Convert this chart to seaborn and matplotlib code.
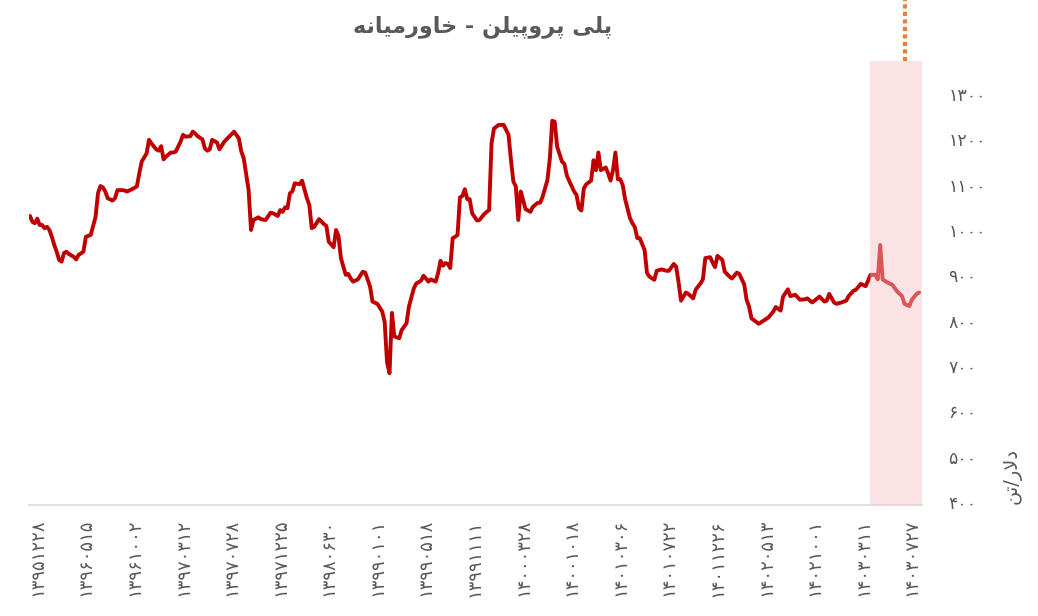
import matplotlib
matplotlib.use("Agg")
import matplotlib.pyplot as plt
import pandas as pd
import seaborn as sns

# ---------------- data ----------------
obs = [0, 1, 2, 3, 4, 5, 6, 7, 8, 9, 10, 11, 12, 13, 14, 15, 16, 18, 19, 20,
       22, 23, 24, 25, 27, 28, 29, 30, 31, 32, 34, 35, 36, 38, 39, 40, 42, 44, 45, 46,
       48, 49, 50, 52, 53, 54, 55, 56, 58, 59, 60, 62, 63, 64, 66, 67, 68, 69, 71, 72,
       73, 74, 75, 77, 78, 80, 82, 84, 86, 87, 88, 90, 91, 92, 94, 95, 97, 99, 100, 102,
       103, 104, 105, 106, 107, 108, 109, 111, 112, 114, 115, 116, 117, 119, 121, 122, 123, 125, 126, 127,
       128, 129, 130, 131, 132, 133, 135, 137, 138, 140, 141, 143, 145, 146, 147, 148, 149, 150, 152, 153,
       155, 156, 158, 159, 161, 162, 163, 164, 165, 167, 168, 169, 170, 171, 172, 173, 174, 175, 176, 177,
       178, 179, 180, 181, 182, 184, 185, 187, 188, 189, 190, 191, 193, 195, 197, 198, 199, 200, 201, 202,
       203, 204, 206, 207, 209, 210, 211, 213, 214, 215, 216, 217, 219, 220, 221, 222, 224, 225, 226, 227,
       228, 229, 231, 232, 233, 234, 235, 237, 238, 239, 240, 241, 242, 243, 244, 245, 247, 248, 249, 250,
       251, 253, 254, 255, 257, 258, 260, 262, 263, 265, 266, 267, 268, 270, 271, 273, 274, 276, 277, 278,
       280, 281, 282, 283, 285, 286, 288, 289, 291, 292, 294, 295, 296, 297, 300, 302, 304, 306, 307, 309,
       310, 312, 313, 315, 317, 319, 320, 322, 325, 327, 328, 329, 331, 332, 334, 336, 337, 339, 340, 342,
       344, 345, 346, 348, 349, 350, 351, 353, 355, 357, 359, 360, 362, 363, 365, 366]

price = [1031, 1018, 1015, 1025, 1011, 1011, 1004, 1007, 1000, 985, 967, 952, 934, 930, 949, 952, 947, 941, 935, 945,
         952, 985, 987, 989, 1029, 1081, 1097, 1094, 1085, 1070, 1065, 1070, 1088, 1088, 1087, 1085, 1090, 1096, 1125, 1151,
         1169, 1199, 1191, 1178, 1175, 1185, 1156, 1162, 1171, 1171, 1173, 1195, 1210, 1206, 1207, 1217, 1213, 1207, 1200, 1180,
         1175, 1178, 1199, 1193, 1178, 1195, 1206, 1217, 1202, 1173, 1158, 1088, 1000, 1022, 1028, 1024, 1022, 1038, 1037, 1031,
         1044, 1040, 1050, 1048, 1081, 1085, 1103, 1101, 1109, 1070, 1055, 1004, 1007, 1024, 1013, 1009, 974, 962, 1000, 987,
         938, 919, 901, 903, 893, 886, 891, 908, 906, 875, 842, 837, 820, 797, 708, 684, 817, 765, 761, 779,
         794, 831, 871, 882, 888, 899, 893, 886, 891, 886, 905, 932, 921, 927, 925, 916, 982, 985, 989, 1072,
         1075, 1090, 1068, 1068, 1037, 1021, 1022, 1035, 1040, 1044, 1191, 1224, 1232, 1232, 1210, 1154, 1107, 1096, 1022, 1085,
         1066, 1046, 1040, 1051, 1060, 1060, 1073, 1110, 1158, 1241, 1239, 1184, 1151, 1146, 1120, 1108, 1085, 1077, 1048, 1043,
         1092, 1101, 1109, 1154, 1132, 1171, 1132, 1138, 1125, 1109, 1132, 1171, 1112, 1112, 1099, 1068, 1026, 1015, 1006, 982,
         982, 956, 905, 897, 890, 910, 913, 910, 910, 925, 919, 884, 844, 862, 859, 849, 868, 882, 891, 938,
         940, 928, 918, 943, 934, 908, 897, 893, 906, 903, 880, 846, 831, 805, 793, 800, 807, 820, 830, 822,
         853, 869, 854, 857, 846, 847, 849, 840, 853, 842, 844, 859, 840, 837, 840, 844, 854, 866, 868, 881,
         876, 888, 901, 901, 891, 967, 891, 884, 879, 864, 854, 837, 832, 846, 859, 862]

tick_obs = [3, 23, 43, 63, 83, 103, 123, 143, 163, 183, 203, 223, 243, 263, 283, 303, 323, 343, 363]
tick_labels = ["۱۳۹۵۱۲۲۸", "۱۳۹۶۰۵۱۵", "۱۳۹۶۱۰۰۲", "۱۳۹۷۰۳۱۲", "۱۳۹۷۰۷۲۸",
               "۱۳۹۷۱۲۲۵", "۱۳۹۸۰۶۳۰", "۱۳۹۹۰۱۰۱", "۱۳۹۹۰۵۱۸", "۱۳۹۹۱۱۱۱",
               "۱۴۰۰۰۳۲۸", "۱۴۰۰۱۰۱۸", "۱۴۰۱۰۳۰۶", "۱۴۰۱۰۷۲۲", "۱۴۰۱۱۲۲۶",
               "۱۴۰۲۰۵۱۳", "۱۴۰۲۱۰۰۱", "۱۴۰۳۰۳۱۱", "۱۴۰۳۰۷۲۷"]
y_ticks = [400, 500, 600, 700, 800, 900, 1000, 1100, 1200, 1300]
highlight_from, highlight_to = 345.6, 367.2
marker_obs = 360.0

title_text = "پلی پروپیلن - خاورمیانه"
unit_text = "دلار/تن"

# -------------- Persian shaping (matplotlib does no shaping / bidi) --------------
FORMS = {
    'ا': ('\uFE8D', '\uFE8E', None, None),
    'د': ('\uFEA9', '\uFEAA', None, None),
    'ر': ('\uFEAD', '\uFEAE', None, None),
    'و': ('\uFEED', '\uFEEE', None, None),
    'پ': ('\uFB56', '\uFB57', '\uFB58', '\uFB59'),
    'ل': ('\uFEDD', '\uFEDE', '\uFEDF', '\uFEE0'),
    'ی': ('\uFBFC', '\uFBFD', '\uFBFE', '\uFBFF'),
    'ن': ('\uFEE5', '\uFEE6', '\uFEE7', '\uFEE8'),
    'خ': ('\uFEA5', '\uFEA6', '\uFEA7', '\uFEA8'),
    'م': ('\uFEE1', '\uFEE2', '\uFEE3', '\uFEE4'),
    'ه': ('\uFEE9', '\uFEEA', '\uFEEB', '\uFEEC'),
    'ت': ('\uFE95', '\uFE96', '\uFE97', '\uFE98'),
}


def shape(s):
    out = []
    i, n = 0, len(s)
    while i < n:
        c = s[i]
        if c not in FORMS:
            out.append(c)
            i += 1
            continue
        prev = s[i - 1] if i > 0 else ''
        joins_prev = prev in FORMS and FORMS[prev][2] is not None
        if c == 'ل' and i + 1 < n and s[i + 1] == 'ا':
            out.append('\uFEFC' if joins_prev else '\uFEFB')
            i += 2
            continue
        nxt = s[i + 1] if i + 1 < n else ''
        joins_next = FORMS[c][2] is not None and nxt in FORMS
        iso, fin, ini, med = FORMS[c]
        if joins_prev and joins_next:
            f = med
        elif joins_prev:
            f = fin
        elif joins_next:
            f = ini
        else:
            f = iso
        out.append(f)
        i += 1
    return ''.join(reversed(out))


FA_DIGITS = str.maketrans('0123456789', '۰۱۲۳۴۵۶۷۸۹')

# ---------------- plot ----------------
sns.set_theme(style="white")
plt.rcParams['font.family'] = ['DejaVu Sans']

df = pd.DataFrame({"obs": obs, "price": price})

fig = plt.figure(figsize=(10.38, 6.16), dpi=100)
ax = fig.add_axes([29 / 1038, 1 - 505 / 616, (922 - 29) / 1038, (505 - 61) / 616])

sns.lineplot(data=df, x="obs", y="price", ax=ax, color="#C00000", linewidth=2.8,
             estimator=None, sort=True, zorder=3)

ax.axvspan(highlight_from, highlight_to, color="#F8C3C7", alpha=0.45, lw=0, zorder=4)
ax.axvline(marker_obs, ymin=1.0, ymax=1.0 + 61 / 444, color="#ED7D31", lw=3,
           dashes=(1, 0.8), clip_on=False, zorder=5)

ax.set_xlim(-0.4, 367.2)
ax.set_ylim(393, 1373)

ax.set_xticks(tick_obs)
ax.set_xticklabels(tick_labels, rotation=90, fontsize=13, color="#595959")
ax.yaxis.tick_right()
ax.set_yticks(y_ticks)
ax.set_yticklabels([str(v).translate(FA_DIGITS) for v in y_ticks], fontsize=12.5, color="#595959")
ax.tick_params(axis="x", length=0, pad=10)
ax.tick_params(axis="y", length=0, pad=19)
ax.set_xlabel("")
ax.set_ylabel("")

for side in ("left", "top", "right"):
    ax.spines[side].set_visible(False)
ax.spines["bottom"].set_color("#D9D9D9")
ax.spines["bottom"].set_linewidth(1.2)
ax.grid(False)

fig.text(483 / 1038, 1 - 27 / 616, shape(title_text), ha="center", va="center",
         fontsize=16, fontweight="bold", color="#595959")
fig.text(1012 / 1038, 1 - 476 / 616, shape(unit_text), ha="center", va="center",
         rotation=90, fontsize=14, color="#595959")

fig.savefig("out.png", dpi=100)
